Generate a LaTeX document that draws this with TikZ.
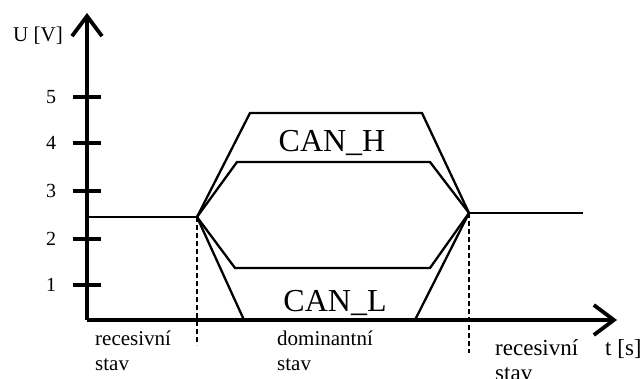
\documentclass[tikz,border=0pt]{standalone}
\usepackage{fontspec}
\setmainfont{Liberation Serif}
\usetikzlibrary{arrows.meta}
\begin{document}
\begin{tikzpicture}[x=1pt,y=-1pt,
	axis/.style={line width=3.8pt},
	axisarrow/.style={axis,-{Straight Barb[length=20pt,width=30pt]}},
	signal/.style={line width=2.3pt,line join=miter},
	guide/.style={line width=1.2pt,dash pattern=on 5pt off 3pt},
	lbl/.style={font=\fontsize{21}{25}\selectfont,align=left,inner sep=0pt}]
		\useasboundingbox (0,0) rectangle (642,379);
		\coordinate (o) at (87,320);
		\coordinate (A) at (197,217);
		\coordinate (B) at (469,213);
		% axes
		\draw[axisarrow] (o) -- (87,13);
		\draw[axisarrow] (o) -- (617,320);
		\foreach \v/\y in {1/285,2/239,3/191,4/143,5/97}
		{
			\draw[axis] (73,\y) -- (101,\y);
			\node[font=\fontsize{20}{22}\selectfont,inner sep=0pt] at (51,\y) {\v};
		}
		\node[lbl,anchor=base] at (38,42) {U [V]};
		\node[lbl,font=\fontsize{23}{25}\selectfont,anchor=base west] at (605,355) {t [s]};
		% recesivni uroven
		\draw[signal] (87,217) -- (A);
		\draw[signal] (B) -- (583,213);
		% CAN_H
		\draw[signal] (A) -- (250,113) -- (422,113) -- (B);
		\draw[signal] (A) -- (237,162) -- (430,162) -- (B);
		% CAN_L
		\draw[signal] (A) -- (235,268) -- (430,268) -- (B);
		\draw[signal] (A) -- (244,320) -- (415,320) -- (B);
		\node[font=\fontsize{32}{36}\selectfont,inner sep=0pt,anchor=base] at (332,152) {CAN\_H};
		\node[font=\fontsize{32}{36}\selectfont,inner sep=0pt,anchor=base] at (335,311) {CAN\_L};
		% hranice stavu
		\draw[guide] (A) -- (197,345);
		\draw[guide] (B) -- (469,353);
		\node[lbl,anchor=base west] at (95,370) {recesivní\\stav};
		\node[lbl,anchor=base west] at (277,370) {dominantní\\stav};
		\node[lbl,font=\fontsize{23}{25}\selectfont,anchor=base west] at (495,380) {recesivní\\stav};
\end{tikzpicture}
\end{document}
